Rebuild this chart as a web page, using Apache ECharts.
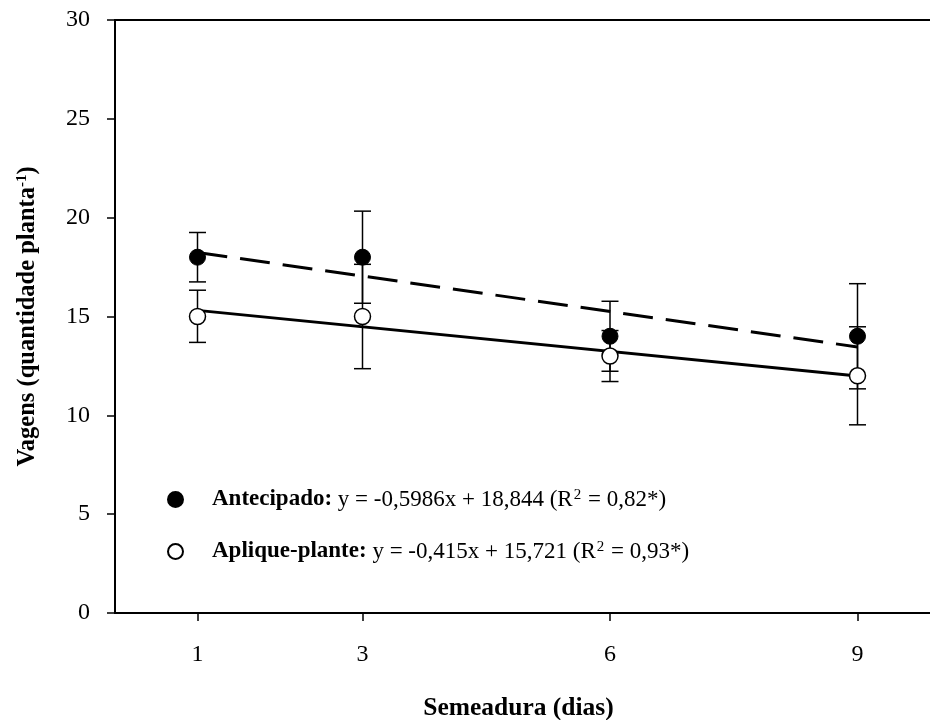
<!DOCTYPE html>
<html>
<head>
<meta charset="utf-8">
<script src="https://cdn.jsdelivr.net/npm/echarts@6/dist/echarts.min.js"></script>
<style>
  html, body { margin: 0; padding: 0; background: #fff; }
  #main { width: 930px; height: 720px; }
</style>
</head>
<body>
<div id="main"></div>
<script>
// dias de semeadura
var dias = [1, 3, 6, 9]
// Antecipado (pontos cheios)
var antMedia = [18, 18, 14, 14]
var antMin = [16.75, 15.67, 12.23, 11.34]
var antMax = [19.25, 20.33, 15.77, 16.66]
// Aplique-plante (pontos vazios)
var aplMedia = [15, 15, 13, 12]
var aplMin = [13.69, 12.36, 11.71, 9.52]
var aplMax = [16.33, 17.64, 14.29, 14.48]
var antReta = [[1, 18.24], [9, 13.46]]
var aplReta = [[1, 15.31], [9, 11.99]]

var serif = 'Liberation Serif'

function pares(xs, ys) {
  return xs.map(function (x, i) { return [x, ys[i]] })
}
function barras(xs, lo, hi) {
  return xs.map(function (x, i) { return [x, lo[i], hi[i]] })
}

function desenhaBarra(params, api) {
  var x = api.value(0)
  var p1 = api.coord([x, api.value(1)])
  var p2 = api.coord([x, api.value(2)])
  var w = 8.5
  var estilo = { stroke: '#000', lineWidth: 1.5 }
  return {
    type: 'group',
    children: [
      { type: 'line', shape: { x1: p1[0], y1: p1[1], x2: p2[0], y2: p2[1] }, style: estilo },
      { type: 'line', shape: { x1: p1[0] - w, y1: p1[1], x2: p1[0] + w, y2: p1[1] }, style: estilo },
      { type: 'line', shape: { x1: p2[0] - w, y1: p2[1], x2: p2[0] + w, y2: p2[1] }, style: estilo }
    ]
  }
}

var legRich = {
  sp: { width: 24 },
  b: { fontFamily: serif, fontSize: 23, fontWeight: 'bold', color: '#000' },
  t: { fontFamily: serif, fontSize: 23, color: '#000' },
  s: { fontFamily: serif, fontSize: 15, color: '#000', verticalAlign: 'top', padding: [0, 1, 0, 1] }
}

var myChart = echarts.init(document.getElementById('main'))
var option = {
  animation: false,
  grid: {
    left: 115,
    top: 20,
    right: -10,
    bottom: 107,
    show: true,
    borderColor: '#000',
    borderWidth: 2,
    outerBoundsMode: 'none'
  },
  legend: [
    {
      left: 162,
      top: 483,
      itemWidth: 15,
      itemHeight: 15,
      data: [{ name: 'Antecipado', icon: 'circle' }],
      formatter: function () {
        return '{sp| }{b|Antecipado:}{t| y = -0,5986x + 18,844 (R}{s|2}{t| = 0,82*)}'
      },
      textStyle: { rich: legRich }
    },
    {
      left: 162,
      top: 535,
      itemWidth: 15,
      itemHeight: 15,
      data: [{ name: 'Aplique-plante', icon: 'circle' }],
      formatter: function () {
        return '{sp| }{b|Aplique-plante:}{t| y = -0,415x + 15,721 (R}{s|2}{t| = 0,93*)}'
      },
      textStyle: { rich: legRich }
    }
  ],
  xAxis: {
    type: 'value',
    min: 0,
    max: 10,
    name: 'Semeadura (dias)',
    nameLocation: 'middle',
    nameGap: 82,
    nameTextStyle: {
      fontFamily: serif,
      fontSize: 25.5,
      fontWeight: 'bold',
      color: '#000',
      padding: [0, 18, 0, 0]
    },
    splitLine: { show: false },
    axisLine: { lineStyle: { color: '#000', width: 2 } },
    axisTick: { show: true, inside: false, length: 8, customValues: dias, lineStyle: { color: '#000', width: 1.5 } },
    axisLabel: { customValues: dias, margin: 30, fontFamily: serif, fontSize: 24, color: '#000' }
  },
  yAxis: {
    type: 'value',
    min: 0,
    max: 30,
    interval: 5,
    name: '{n|Vagens (quantidade planta}{s|-1}{n|)}',
    nameLocation: 'middle',
    nameRotate: 90,
    nameGap: 75,
    nameTextStyle: {
      rich: {
        n: { fontFamily: serif, fontSize: 24.5, fontWeight: 'bold', color: '#000' },
        s: { fontFamily: serif, fontSize: 15, fontWeight: 'bold', color: '#000', verticalAlign: 'top' }
      }
    },
    splitLine: { show: false },
    axisLine: { show: true, lineStyle: { color: '#000', width: 2 } },
    axisTick: { show: true, inside: false, length: 8, lineStyle: { color: '#000', width: 1.5 } },
    axisLabel: { margin: 25, fontFamily: serif, fontSize: 24, color: '#000' }
  },
  series: [
    // barras de erro
    {
      type: 'custom',
      renderItem: desenhaBarra,
      data: barras(dias, antMin, antMax),
      encode: { x: 0, y: [1, 2] },
      z: 1,
      silent: true
    },
    {
      type: 'custom',
      renderItem: desenhaBarra,
      data: barras(dias, aplMin, aplMax),
      encode: { x: 0, y: [1, 2] },
      z: 1,
      silent: true
    },
    // retas
    {
      type: 'line',
      data: antReta,
      showSymbol: false,
      lineStyle: { color: '#000', width: 3, type: [30, 13] },
      z: 2,
      silent: true
    },
    {
      type: 'line',
      data: aplReta,
      showSymbol: false,
      lineStyle: { color: '#000', width: 3 },
      z: 2,
      silent: true
    },
    // pontos
    {
      name: 'Antecipado',
      type: 'scatter',
      data: pares(dias, antMedia),
      symbol: 'circle',
      symbolSize: 16,
      itemStyle: { color: '#000', borderColor: '#000', borderWidth: 1, opacity: 1 },
      z: 3
    },
    {
      name: 'Aplique-plante',
      type: 'scatter',
      data: pares(dias, aplMedia),
      symbol: 'circle',
      symbolSize: 16,
      itemStyle: { color: '#fff', borderColor: '#000', borderWidth: 1.5, opacity: 1 },
      z: 3
    }
  ]
}
option && myChart.setOption(option)
</script>
</body>
</html>
